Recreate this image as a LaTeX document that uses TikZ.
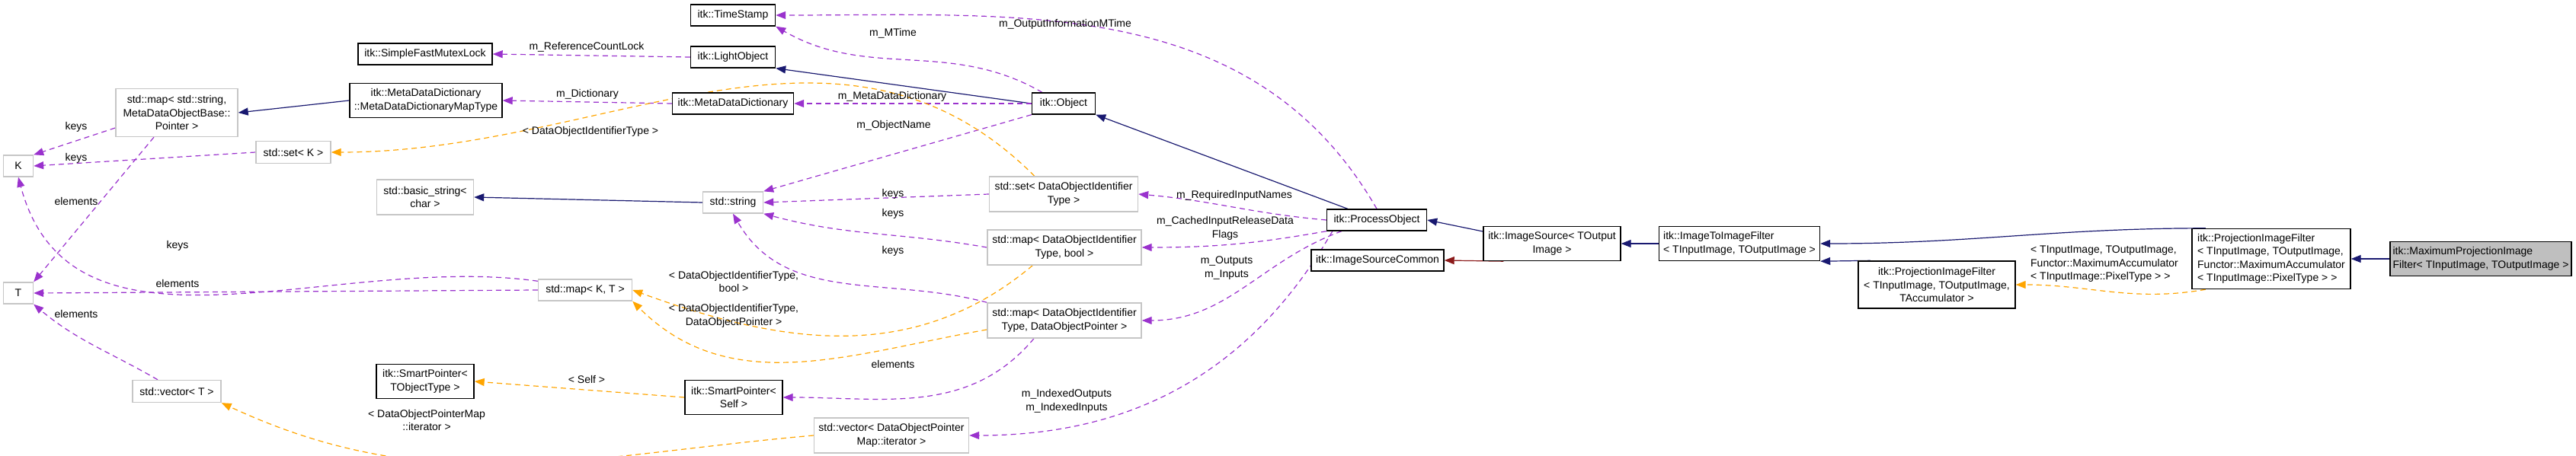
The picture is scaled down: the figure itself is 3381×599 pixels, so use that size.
\documentclass[tikz,border=0pt]{standalone}
\usepackage{fontspec}
\setmainfont{Liberation Sans}
\usetikzlibrary{arrows.meta,backgrounds}
\definecolor{inherit}{HTML}{191970}
\definecolor{usage}{HTML}{9A32CD}
\definecolor{templ}{HTML}{FFA500}
\definecolor{priv}{HTML}{8B1A1A}
\tikzset{
  cls/.style={draw=black,line width=1.4pt,fill=white,inner sep=2pt,align=center,font=\fontsize{14}{17.5}\selectfont},
  ext/.style={cls,draw=gray!45},
  lbl/.style={inner sep=0pt,align=center,font=\fontsize{14}{17.5}\selectfont},
  tip/.style={-{Triangle[length=13pt,width=10pt,fill=#1]}},
  isa/.style={tip=inherit,draw=inherit,line width=1.2pt},
  uses/.style={tip=usage,draw=usage,line width=1.2pt,dash pattern=on 7pt off 5pt},
  tmpl/.style={tip=templ,draw=templ,line width=1.2pt,dash pattern=on 7pt off 5pt},
}
\begin{document}
\begin{tikzpicture}[x=1pt,y=-1pt]
\useasboundingbox (0,0) rectangle (3381,599);

% classes
\node[cls,minimum width=111,minimum height=28] (stamp) at (962,20) {itk::TimeStamp};
\node[cls,minimum width=111,minimum height=28] (light) at (962,75) {itk::LightObject};
\node[cls,minimum width=176,minimum height=28] (mutex) at (558,71) {itk::SimpleFastMutexLock};
\node[cls,minimum width=159,minimum height=28] (mdd) at (962,136) {itk::MetaDataDictionary};
\node[cls,minimum width=200,minimum height=45] (mddmap) at (559,132) {itk::MetaDataDictionary\\::MetaDataDictionaryMapType};
\node[ext,minimum width=160,minimum height=63] (mapstr) at (232,148) {std::map\textless{} std::string,\\MetaDataObjectBase::\\Pointer \textgreater};
\node[ext,minimum width=98,minimum height=29] (setk) at (385,200) {std::set\textless{} K \textgreater};
\node[ext,minimum width=39,minimum height=28] (kk) at (24,218) {K};
\node[ext,minimum width=127,minimum height=46] (basic) at (558,259) {std::basic\_string\textless\\char \textgreater};
\node[ext,minimum width=39,minimum height=28] (tt) at (24,385) {T};
\node[ext,minimum width=123,minimum height=28] (mapkt) at (768,381) {std::map\textless{} K, T \textgreater};
\node[cls,minimum width=128,minimum height=45] (spobj) at (558,501) {itk::SmartPointer\textless\\TObjectType \textgreater};
\node[ext,minimum width=116,minimum height=29] (vect) at (232,514) {std::vector\textless{} T \textgreater};
\node[cls,minimum width=83,minimum height=28] (object) at (1396,136) {itk::Object};
\node[ext,minimum width=79,minimum height=28] (str) at (962,266) {std::string};
\node[ext,minimum width=195,minimum height=46] (setid) at (1396,255) {std::set\textless{} DataObjectIdentifier\\Type \textgreater};
\node[ext,minimum width=202,minimum height=46] (mapbool) at (1397,325) {std::map\textless{} DataObjectIdentifier\\Type, bool \textgreater};
\node[ext,minimum width=202,minimum height=46] (mapptr) at (1397,421) {std::map\textless{} DataObjectIdentifier\\Type, DataObjectPointer \textgreater};
\node[cls,minimum width=128,minimum height=45] (spself) at (963,522) {itk::SmartPointer\textless\\Self \textgreater};
\node[ext,minimum width=203,minimum height=46] (vecptr) at (1170,572) {std::vector\textless{} DataObjectPointer\\Map::iterator \textgreater};
\node[cls,minimum width=131,minimum height=28] (process) at (1807,289) {itk::ProcessObject};
\node[cls,minimum width=174,minimum height=28] (common) at (1808,342) {itk::ImageSourceCommon};
\node[cls,minimum width=180,minimum height=45] (source) at (2037,320) {itk::ImageSource\textless{} TOutput\\Image \textgreater};
\node[cls,minimum width=211,minimum height=45,align=left] (i2i) at (2283,320) {itk::ImageToImageFilter\\\textless{} TInputImage, TOutputImage \textgreater};
\node[cls,minimum width=206,minimum height=62] (projacc) at (2542,374) {itk::ProjectionImageFilter\\\textless{} TInputImage, TOutputImage,\\TAccumulator \textgreater};
\node[cls,minimum width=208,minimum height=79,align=left] (projmax) at (2981,340) {itk::ProjectionImageFilter\\\textless{} TInputImage, TOutputImage,\\Functor::MaximumAccumulator\\\textless{} TInputImage::PixelType \textgreater{} \textgreater};
\node[cls,fill=gray!50,minimum width=238,minimum height=45,align=left] (maxproj) at (3256,340) {itk::MaximumProjectionImage\\Filter\textless{} TInputImage, TOutputImage \textgreater};

\begin{scope}[on background layer]
% inheritance
\draw[isa] (mddmap.west) -- (mapstr.east);
\draw[isa] (str.west) -- (basic.east);
\draw[isa] (object.west) -- (light.south east);
\draw[isa] (process.north west) ++(28,0) -- (object.south east);
\draw[isa] (source.170) -- (process.east);
\draw[isa] (i2i.west) -- (source.east);
\draw[isa] (projmax.155) to[out=180,in=0] (i2i.east);
\draw[isa] (projacc.160) -- (i2i.south east);
\draw[isa] (maxproj.west) -- (projmax.east);
\draw[isa=priv,draw=priv,tip=priv] (source.200) -- (common.east);

% members
\draw[uses] (light.west) -- (mutex.east);
\draw[uses] (mdd.west) -- (mddmap.east);
\draw[uses] (object.north west) ++(14,0) to[out=150,in=-30] (stamp.south east);
\draw[uses] (process.north) to[out=120,in=0] (stamp.east);
\draw[uses] (object.west) -- (mdd.east);
\draw[uses] (object.south west) -- (str.north east);
\draw[uses] (setid.west) -- (str.east);
\draw[uses] (mapbool.west) to[out=170,in=-15] (str.south east);
\draw[uses] (mapptr.north west) to[out=165,in=-60] (str.south);
\draw[uses] (process.west) to[out=175,in=-5] (setid.east);
\draw[uses] (process.south west) to[out=190,in=0] (mapbool.east);
\draw[uses] (process.south west) ++(20,0) to[out=200,in=0] (mapptr.east);
\draw[uses] (process.south west) ++(8,0) to[out=240,in=0] (vecptr.east);
\draw[uses] (mapptr.south) ++(-40,0) to[out=-130,in=0] (spself.east);
\draw[uses] (mapstr.west) ++(0,20) -- (kk.north east);
\draw[uses] (setk.west) -- (kk.east);
\draw[uses] (mapstr.south) ++(-30,0) -- (tt.north east);
\draw[uses] (mapkt.north west) ++(0,3) to[out=172,in=-75] (kk.south);
\draw[uses] (mapkt.west) -- (tt.east);
\draw[uses] (vect.north) ++(-25,0) to[out=150,in=-40] (tt.south east);

% template instances
\draw[tmpl] (setid.north west) ++(60,0) to[out=135,in=0] (setk.east);
\draw[tmpl] (mapbool.south west) ++(60,0) to[out=-140,in=-20] (mapkt.east);
\draw[tmpl] (mapptr.west) ++(0,12) to[out=190,in=-45] (mapkt.south east);
\draw[tmpl] (spself.west) -- (spobj.east);
\draw[tmpl] (vecptr.west) to[out=185,in=-25] (vect.south east);
\draw[tmpl] (projmax.205) to[out=190,in=0] (projacc.east);
\end{scope}

% labels
\node[lbl] (l1) at (770,62) {m\_ReferenceCountLock};
\node[lbl] (l2) at (771,124) {m\_Dictionary};
\node[lbl] (l3) at (775,173) {\textless{} DataObjectIdentifierType \textgreater};
\node[lbl] (l4) at (100,167) {keys};
\node[lbl] (l5) at (100,208) {keys};
\node[lbl] (l6) at (100,264) {elements};
\node[lbl] (l7) at (233,323) {keys};
\node[lbl] (l8) at (233,372) {elements};
\node[lbl] (l9) at (100,412) {elements};
\node[lbl] (l10) at (770,498) {\textless{} Self \textgreater};
\node[lbl] (l11) at (560,552) {\textless{} DataObjectPointerMap\\::iterator \textgreater};
\node[lbl] (l12) at (1172,44) {m\_MTime};
\node[lbl] (l13) at (1398,32) {m\_OutputInformationMTime};
\node[lbl] (l14) at (1171,127) {m\_MetaDataDictionary};
\node[lbl] (l15) at (1173,165) {m\_ObjectName};
\node[lbl] (l16) at (1172,255) {keys};
\node[lbl] (l17) at (1172,281) {keys};
\node[lbl] (l18) at (1172,330) {keys};
\node[lbl] (l19) at (963,370) {\textless{} DataObjectIdentifierType,\\bool \textgreater};
\node[lbl] (l20) at (963,415) {\textless{} DataObjectIdentifierType,\\DataObjectPointer \textgreater};
\node[lbl] (l21) at (1172,478) {elements};
\node[lbl] (l22) at (1620,257) {m\_RequiredInputNames};
\node[lbl] (l23) at (1608,300) {m\_CachedInputReleaseData\\Flags};
\node[lbl] (l24) at (1610,352) {m\_Outputs\\m\_Inputs};
\node[lbl] (l25) at (1400,527) {m\_IndexedOutputs\\m\_IndexedInputs};
\node[lbl,align=left] (l26) at (2762,347) {\textless{} TInputImage, TOutputImage,\\Functor::MaximumAccumulator\\\textless{} TInputImage::PixelType \textgreater{} \textgreater};
\end{tikzpicture}
\end{document}
